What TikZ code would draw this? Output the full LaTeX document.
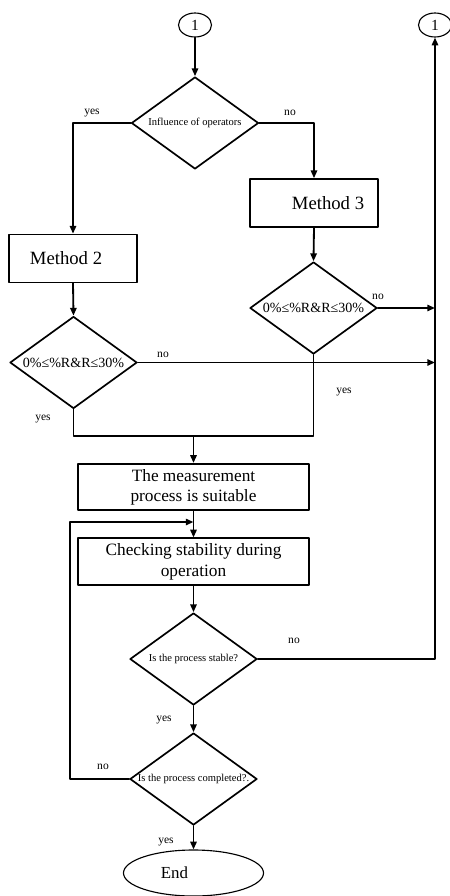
\documentclass[tikz,border=0pt]{standalone}
\usepackage{fontspec}
\setmainfont{Liberation Serif}
\usetikzlibrary{shapes.geometric,arrows.meta}

\begin{document}
\begin{tikzpicture}[
   x=0.025cm,
   y=-0.025cm,
   line cap=round,
   line join=round,
   every node/.style={font=\small},
   box/.style={draw,rectangle,line width=1.2pt,align=center,inner sep=0pt,
     minimum width=5.775cm,minimum height=1.16cm,
     font=\fontsize{12.3}{14}\selectfont},
   method/.style={box,minimum width=3.2cm,minimum height=1.2cm,
     font=\fontsize{13.3}{15}\selectfont},
   decision/.style={draw,diamond,line width=1.2pt,inner sep=0pt,
     minimum width=3.175cm,minimum height=2.3cm},
   connector/.style={draw,ellipse,line width=0.8pt,inner sep=0pt,
     minimum width=0.825cm,minimum height=0.6cm,font=\fontsize{11}{12}\selectfont},
   wire/.style={line width=1.3pt},
   arr/.style={wire,-{Triangle[length=5.5pt,width=4.5pt]}},
   lbl/.style={font=\fontsize{8.2}{9}\selectfont,inner sep=0pt},
   qtext/.style={font=\fontsize{7.5}{9}\selectfont,inner sep=0pt},
   crit/.style={font=\fontsize{10}{12}\selectfont,inner sep=0pt}
 ]
   \useasboundingbox (0,0) rectangle (449,896);

   % Entry and exit connectors.
   \node[connector] (c1) at (195,25) {1};
   \node[connector] (c2) at (435,25) {1};

   % Choice of method.
   \node[decision,label={[qtext]center:Influence of operators}] (d1) at (195,123) {};
   \node[method] (m2) at (73,258.5) {Method 2\hspace*{0.35cm}};
   \node[method] (m3) at (314,203) {\hspace*{0.7cm}Method 3};
   \node[decision,label={[crit]center:0\%≤\%R\&R≤30\%}] (d2) at (73.5,362.5) {};
   \node[decision,label={[crit]center:0\%≤\%R\&R≤30\%}] (d3) at (313.5,308) {};

   % Main column.
   \coordinate (jn) at (193.5,436);
   \node[box] (b4) at (193.5,487) {The measurement\\process is suitable};
   \node[box,font=\fontsize{12.3}{15}\selectfont] (b5) at (193.5,561.5)
     {Checking stability during\\operation};
   \node[decision,label={[qtext]center:Is the process stable?}] (d4) at (193.5,659) {};
   \node[decision,label={[qtext]center:Is the process completed?.}] (d5) at (193.5,779) {};
   \node[draw,ellipse,line width=0.8pt,minimum width=3.5cm,minimum height=1.15cm,
     font=\fontsize{12}{14}\selectfont] (end) at (193.5,873) {End\hspace*{0.95cm}};
   \coordinate (lp) at (70,522);

   % Connectors.
   \draw[arr] (c1.south) -- (d1.north);
   \draw[arr] (d1.west) -| (m2.north);
   \draw[arr] (d1.east) -| (m3.north);
   \draw[arr] (m2.south) -- (d2.north);
   \draw[arr] (m3.south) -- (d3.north);
   \draw[arr] (d3.east) -- (d3.east -| c2.south);
   \draw[arr] (d2.east) -- (d2.east -| c2.south);
   \draw[wire] (d2.south) |- (d3.south |- jn) -- (d3.south);
   \draw[arr] (jn) -- (b4.north);
   \draw[arr] (b4.south) -- (b5.north);
   \draw[arr] (b5.south) -- (d4.north);
   \draw[arr] (d4.east) -| (c2.south);
   \draw[arr] (d4.south) -- (d5.north);
   \draw[arr] (d5.west) -| (lp) -- (b4.south |- lp);
   \draw[arr] (d5.south) -- (end.north);

   % Branch labels.
   \node[lbl] (y1) at (92,113) {yes};
   \node[lbl] (n1) at (290,113) {no};
   \node[lbl] (n3) at (378,297) {no};
   \node[lbl] (n2) at (163,355) {no};
   \node[lbl] (y3) at (344,392) {yes};
   \node[lbl] (y2) at (43,419) {yes};
   \node[lbl] (n4) at (294,641) {no};
   \node[lbl] (y4) at (164,720) {yes};
   \node[lbl] (n5) at (103,767) {no};
   \node[lbl] (y5) at (166,842) {yes};
 \end{tikzpicture}
\end{document}
